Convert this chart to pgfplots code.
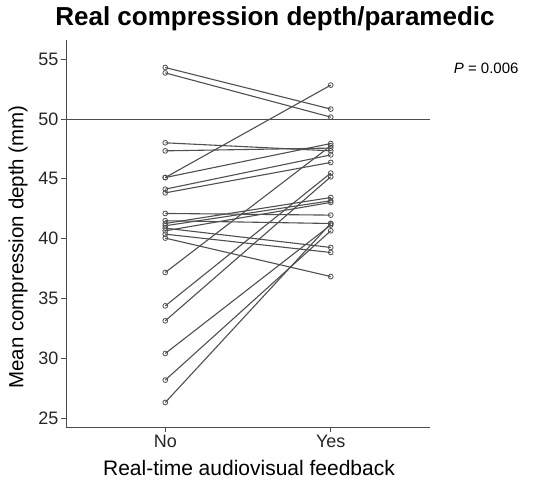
\documentclass[border=0pt]{standalone}
\usepackage{pgfplots}
\pgfplotsset{compat=1.18}
\usepackage{fontspec}
\setmainfont{Liberation Sans}
\definecolor{lgray}{HTML}{505050}
\begin{document}
\begin{tikzpicture}[x=1pt,y=1pt]
\path[use as bounding box] (0,0) rectangle (535,489);
\begin{axis}[
  at={(66pt,62pt)}, anchor=south west,
  width=364pt, height=387pt, scale only axis,
  xmin=0.4, xmax=2.6, ymin=24.27, ymax=56.6,
  xtick={1,2}, xticklabels={No,Yes},
  ytick={25,30,...,55},
  axis x line*=bottom, axis y line*=left,
  axis line style={color=black!70, line width=0.9pt},
  tick style={color=black!70, line width=0.9pt},
  tick align=outside, major tick length=5pt,
  tick label style={font=\fontsize{18}{18}\selectfont, color=black!85},
  yticklabel style={xshift=1pt},
  /pgf/number format/assume math mode=true,
  clip=false,
  pair/.style={color=lgray, solid, line width=1.1pt, mark=o, mark size=2.4pt, mark options={solid, line width=0.8pt, fill=white}},
]
\addplot[no marks, color=black!70, line width=0.9pt] coordinates {(0.4,50) (2.6,50)};
\addplot[pair] coordinates {(1,54.30) (2,50.83)};
\addplot[pair] coordinates {(1,53.85) (2,50.16)};
\addplot[pair] coordinates {(1,48.01) (2,47.34)};
\addplot[pair] coordinates {(1,47.34) (2,47.57)};
\addplot[pair] coordinates {(1,45.11) (2,52.83)};
\addplot[pair] coordinates {(1,45.11) (2,47.95)};
\addplot[pair] coordinates {(1,44.14) (2,47.00)};
\addplot[pair] coordinates {(1,43.83) (2,46.37)};
\addplot[pair] coordinates {(1,37.18) (2,47.76)};
\addplot[pair] coordinates {(1,34.39) (2,45.48)};
\addplot[pair] coordinates {(1,33.14) (2,45.17)};
\addplot[pair] coordinates {(1,30.41) (2,41.14)};
\addplot[pair] coordinates {(1,28.19) (2,40.66)};
\addplot[pair] coordinates {(1,26.32) (2,41.27)};
\addplot[pair] coordinates {(1,42.11) (2,41.97)};
\addplot[pair] coordinates {(1,41.50) (2,41.27)};
\addplot[pair] coordinates {(1,41.27) (2,43.44)};
\addplot[pair] coordinates {(1,41.08) (2,43.17)};
\addplot[pair] coordinates {(1,40.88) (2,39.27)};
\addplot[pair] coordinates {(1,40.66) (2,43.03)};
\addplot[pair] coordinates {(1,40.38) (2,38.85)};
\addplot[pair] coordinates {(1,40.05) (2,36.84)};
\end{axis}
\node[font=\bfseries\fontsize{26}{26}\selectfont] at (275,470) {Real compression depth/paramedic};
\node[font=\fontsize{15}{15}\selectfont, anchor=east] at (522,421) {\textit{P} = 0.006};
\node[font=\fontsize{20.5}{20.5}\selectfont, rotate=90] at (18,242) {Mean compression depth (mm)};
\node[font=\fontsize{21}{21}\selectfont] at (249,21) {Real-time audiovisual feedback};
\end{tikzpicture}
\end{document}
